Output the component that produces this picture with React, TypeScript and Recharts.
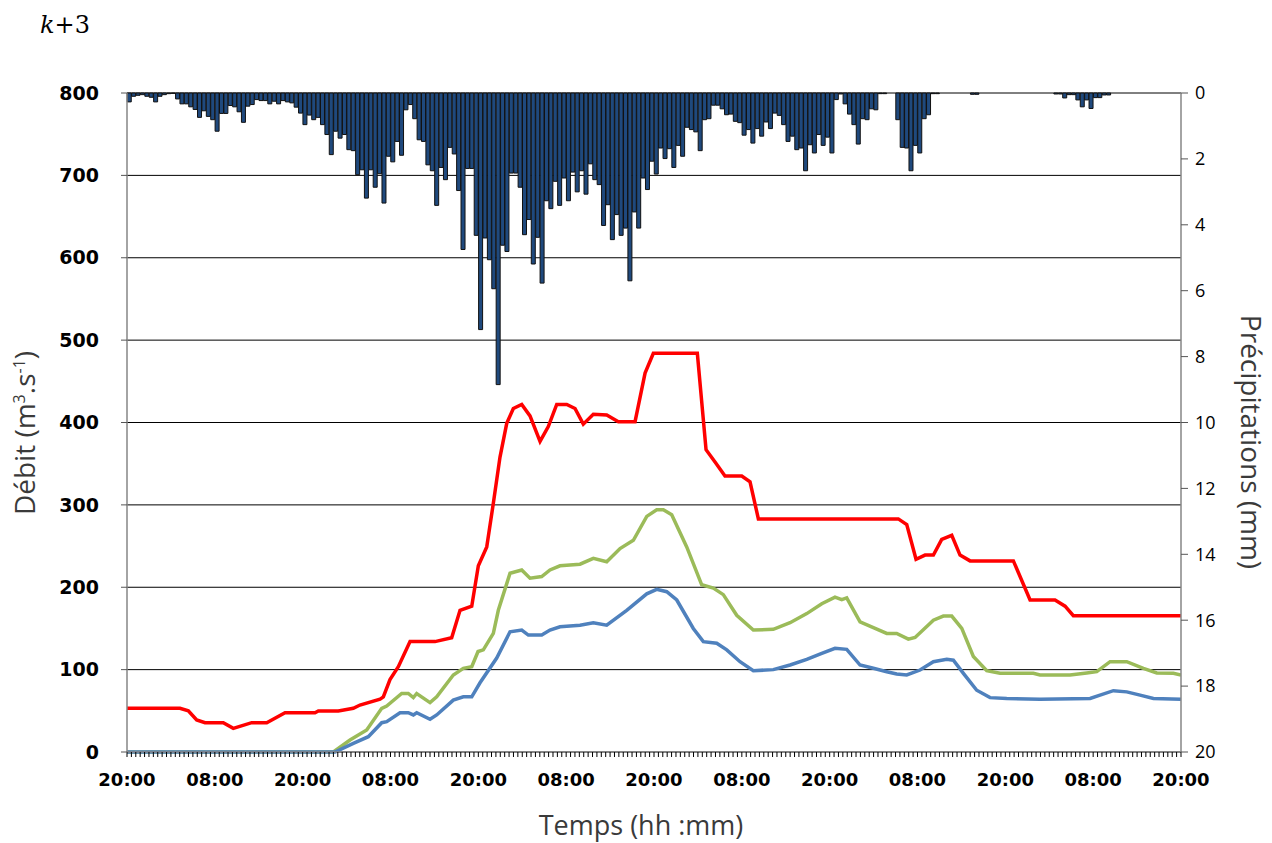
import React from "react";
import { ComposedChart, Bar, Line, XAxis, YAxis, CartesianGrid } from "recharts";

// Precipitation (mm), one value per 0.6 h step, 20:00 -> 20:00 over 6 days
const STEP_H = 0.6;
const rainMm = [
  0.27, 0.1, 0.07, 0.05, 0.1, 0.13, 0.27, 0.1, 0.05, 0.02, 0.01, 0.18, 0.33, 0.33, 0.42, 0.5, 0.74, 0.54, 0.71, 0.81,
  1.16, 0.62, 0.62, 0.38, 0.42, 0.57, 0.89, 0.4, 0.35, 0.2, 0.23, 0.23, 0.33, 0.25, 0.33, 0.23, 0.27, 0.3, 0.43, 0.61,
  0.96, 0.67, 0.81, 0.74, 0.96, 1.26,
  1.87, 1.16, 1.37, 1.26, 1.72, 1.75, 2.48, 2.33, 3.19, 2.33, 2.86, 2.45, 3.34, 1.92, 2.09, 1.47, 1.89, 0.51, 0.35, 0.78,
  1.42, 1.47, 2.18, 2.36, 3.41, 2.26, 2.63, 1.65, 1.85, 2.96, 4.75, 2.29, 2.29, 4.32, 7.18, 4.4, 5.06, 5.94, 8.85, 4.62,
  4.81,
  2.43, 2.43, 2.86, 4.3, 3.84, 5.19, 4.38, 5.77, 3.27, 3.51, 2.68, 3.41, 2.58, 3.27, 2.4, 3.0, 2.36, 3.07, 2.15, 2.63,
  2.78, 4.02, 3.39, 4.45, 3.69, 4.32, 4.1, 5.7, 3.61, 4.1, 2.58, 2.93, 2.07, 2.46, 1.67, 1.99, 1.69, 2.26, 1.59, 1.92,
  1.04, 1.11, 1.18,
  1.75, 0.81, 0.78, 0.37, 0.37, 0.48, 0.66, 0.64, 0.86, 0.9, 1.28, 1.11, 1.52, 1.08, 1.31, 0.88, 1.08, 0.61, 0.68, 0.96,
  1.47, 1.31, 1.72, 1.67, 2.36, 1.57, 1.82, 1.26, 1.59, 1.34, 1.82, 0.2, 0.03, 0.33, 0.64, 0.96, 1.55, 0.78, 0.81, 0.48,
  0.51, 0.02, 0.02, 0, 0, 0.81, 1.65, 1.67, 2.36, 1.59, 1.82, 0.78, 0.66, 0.02, 0.02,
  0, 0, 0, 0, 0, 0, 0, 0.04, 0.04, 0, 0, 0, 0, 0, 0, 0, 0, 0, 0, 0,
  0, 0, 0, 0, 0, 0, 0.03, 0.03, 0.15, 0.05, 0.05, 0.21, 0.42, 0.21, 0.47, 0.14, 0.14, 0.06, 0.06, 0,
  0, 0, 0, 0, 0, 0, 0, 0, 0, 0, 0, 0, 0, 0, 0,
];

// Discharge series: [hour since first 20:00, m3/s]
const redFlow: [number, number][] = [
  [0, 53], [7.24, 53], [8.38, 50], [9.52, 39], [10.66, 35.6], [13.16, 35.6], [14.52, 28.7], [17.04, 35.6], [19.09, 35.6],
  [21.59, 47.7], [25.69, 47.7], [26.14, 49.8], [28.87, 49.8], [30.92, 53], [31.83, 57], [34.57, 64], [35.02, 67],
  [35.93, 88], [37.07, 103.6], [38.67, 134], [42.08, 134], [44.36, 138.8], [45.5, 172], [47.1, 177], [48.0, 226],
  [49.15, 249], [50.05, 302], [50.96, 358], [51.88, 399], [52.78, 417], [53.93, 422], [55.06, 408], [56.43, 377],
  [57.56, 395], [58.71, 422], [60.08, 422], [61.21, 417], [62.34, 398], [63.71, 410], [65.54, 409], [67.13, 401],
  [69.41, 401], [70.78, 460], [71.91, 484], [77.92, 484], [79.11, 367], [80.34, 352], [81.7, 335], [83.99, 335],
  [85.12, 328], [86.26, 283], [105.38, 283], [106.53, 276], [107.8, 234], [109.03, 239], [110.17, 239], [111.31, 258],
  [112.68, 263], [113.81, 239], [115.18, 232], [121.1, 232], [123.38, 184.5], [126.79, 184.5], [128.16, 177],
  [129.29, 165.5], [144, 165.5],
];
const greenFlow: [number, number][] = [
  [0, 0], [28.19, 0], [30.47, 14.6], [32.75, 26.7], [34.8, 53], [35.48, 55.8], [37.53, 71], [38.43, 71], [39.12, 66],
  [39.58, 71], [41.4, 60], [42.31, 67], [44.58, 93.5], [45.95, 101.6], [47.1, 103.6], [47.96, 122], [48.68, 124],
  [50.05, 144], [50.73, 172], [52.33, 217], [53.93, 221], [55.06, 211], [56.66, 213], [57.79, 221], [59.16, 226],
  [61.89, 228], [63.71, 235], [65.54, 231], [67.36, 247], [69.18, 257], [71.01, 286], [72.37, 294], [73.28, 294],
  [74.42, 288], [76.47, 249], [78.52, 203], [80.11, 199], [81.47, 191], [83.3, 166], [85.57, 148], [88.3, 149],
  [90.59, 157], [92.87, 168], [94.92, 180], [96.73, 188], [97.65, 185], [98.33, 187], [100.15, 158], [101.97, 151],
  [103.8, 144], [105.16, 144], [106.75, 137], [107.67, 139], [110.17, 160], [111.53, 165], [112.68, 165],
  [114.05, 150], [115.63, 116], [117.46, 98.7], [119.28, 95.5], [123.83, 95.5], [124.74, 93.5], [128.84, 93.5],
  [131.12, 96], [132.49, 97.5], [134.31, 109.6], [136.59, 109.6], [138.86, 101.6], [140.69, 96], [142.96, 95.5],
  [144, 93.5],
];
const blueFlow: [number, number][] = [
  [0, 0], [28.42, 0], [30.92, 10.5], [32.97, 18.6], [34.8, 35.6], [35.48, 36.8], [37.3, 47.7], [38.43, 47.7],
  [39.12, 45], [39.58, 47.7], [41.4, 39.7], [42.31, 45], [44.58, 63], [45.95, 67], [47.1, 67], [48.23, 84],
  [50.51, 114], [52.33, 146], [53.93, 148], [54.83, 142], [56.66, 142], [57.79, 148], [59.16, 152], [61.89, 154],
  [63.71, 157], [65.54, 154], [68.27, 172], [71.01, 192], [72.37, 197.5], [73.74, 194.6], [75.11, 184.5],
  [77.37, 150], [78.74, 134], [80.57, 132], [81.94, 124], [83.75, 109.6], [85.57, 98.7], [88.3, 100], [90.59, 105.6],
  [92.87, 112.5], [94.92, 119.8], [96.73, 125.9], [98.33, 124.6], [100.15, 105.6], [101.97, 101.6], [103.8, 97.5],
  [105.16, 94.7], [106.53, 93.5], [108.35, 99.5], [110.17, 109.6], [112.0, 112.5], [112.9, 111.5], [114.27, 95.5],
  [116.09, 75], [117.91, 66], [120.19, 65], [124.74, 64], [131.58, 65], [132.94, 69], [134.76, 74.4], [136.59, 73],
  [138.41, 69], [140.23, 65], [144, 64],
];

const timeLabels = ["20:00", "08:00"];
const flowTicks = [0, 100, 200, 300, 400, 500, 600, 700, 800];
const rainTicks = [0, 2, 4, 6, 8, 10, 12, 14, 16, 18, 20];

const rainData = rainMm.map((p, i) => ({ i, h: (i + 0.5) * STEP_H, p }));
const toPts = (arr: [number, number][]) => arr.map(([h, v]) => ({ h, v }));
const xTicks = [...rainMm.map((_, i) => +(i * STEP_H).toFixed(2)), +(rainMm.length * STEP_H).toFixed(2)];
const LABEL_EVERY = 20;

const XTick = (props: any) => {
  const { x, y, index } = props;
  if (index % LABEL_EVERY !== 0) return null;
  const lbl = timeLabels[(index / LABEL_EVERY) % 2];
  return (
    <text x={x} y={y + 27} textAnchor="middle" fontFamily="DejaVu Sans" fontWeight="bold" fontSize={18} fill="#000">
      {lbl}
    </text>
  );
};

const titleStyle: React.CSSProperties = {
  position: "absolute",
  whiteSpace: "nowrap",
  fontFamily: "Open Sans, Noto Sans",
  fontSize: 28,
  color: "#3a3a3a",
  lineHeight: 1,
};

export default function App() {
  return (
    <div style={{ position: "absolute", left: 0, top: 0, width: 1272, height: 843, background: "#fff" }}>
      <ComposedChart
        width={1272}
        height={843}
        data={rainData}
        margin={{ top: 93, right: 0, bottom: 51, left: 0 }}
        barCategoryGap="6%"
      >
        <CartesianGrid xAxisId="num" yAxisId="left" vertical={false} stroke="#000" strokeWidth={1} horizontalValues={flowTicks} />
        <XAxis xAxisId="cat" dataKey="i" type="category" orientation="top" height={0} hide />
        <XAxis
          xAxisId="num"
          dataKey="h"
          type="number"
          domain={[0, 144]}
          ticks={xTicks}
          interval={0}
          tick={<XTick />}
          tickSize={5}
          tickLine={{ stroke: "#000", strokeWidth: 1 }}
          axisLine={{ stroke: "#868686", strokeWidth: 1.5 }}
          height={40}
          allowDataOverflow
        />
        <YAxis
          yAxisId="left"
          domain={[0, 800]}
          ticks={flowTicks}
          width={127}
          tickSize={6}
          tickMargin={22}
          tickLine={{ stroke: "#555" }}
          axisLine={{ stroke: "#868686", strokeWidth: 1.5 }}
          tick={{ fontFamily: "DejaVu Sans", fontWeight: "bold", fontSize: 19, fill: "#000" }}
        />
        <YAxis
          yAxisId="right"
          orientation="right"
          reversed
          domain={[0, 20]}
          ticks={rainTicks}
          width={91}
          tickSize={7}
          tickMargin={7}
          tickLine={{ stroke: "#555" }}
          axisLine={{ stroke: "#868686", strokeWidth: 1.5 }}
          tick={{ fontFamily: "Open Sans, Noto Sans", fontSize: 18, fill: "#000" }}
        />
        <Bar
          xAxisId="cat"
          yAxisId="right"
          dataKey="p"
          fill="#1F497D"
          stroke="#111"
          strokeWidth={1}
          isAnimationActive={false}
        />
        <Line xAxisId="num" yAxisId="left" data={toPts(redFlow)} dataKey="v" type="linear" stroke="#FF0000" strokeWidth={3.5} dot={false} isAnimationActive={false} />
        <Line xAxisId="num" yAxisId="left" data={toPts(greenFlow)} dataKey="v" type="linear" stroke="#9BBB59" strokeWidth={3.5} dot={false} isAnimationActive={false} />
        <Line xAxisId="num" yAxisId="left" data={toPts(blueFlow)} dataKey="v" type="linear" stroke="#4F81BD" strokeWidth={3.5} dot={false} isAnimationActive={false} />
      </ComposedChart>
      <div style={{ position: "absolute", left: 40, top: 11, fontFamily: "DejaVu Serif, Liberation Serif, serif", fontSize: 24, color: "#000" }}>
        <i>k</i>+3
      </div>
      <div style={{ ...titleStyle, left: 24, top: 433, transform: "translate(-50%, -50%) rotate(-90deg)" }}>
        Débit (m<sup style={{ fontSize: 16 }}>3</sup>.s<sup style={{ fontSize: 16 }}>-1</sup>)
      </div>
      <div style={{ ...titleStyle, left: 1252, top: 442, transform: "translate(-50%, -50%) rotate(90deg)" }}>
        Précipitations (mm)
      </div>
      <div style={{ ...titleStyle, fontSize: 27, left: 641, top: 824, transform: "translate(-50%, -50%)" }}>
        Temps (hh :mm)
      </div>
    </div>
  );
}
